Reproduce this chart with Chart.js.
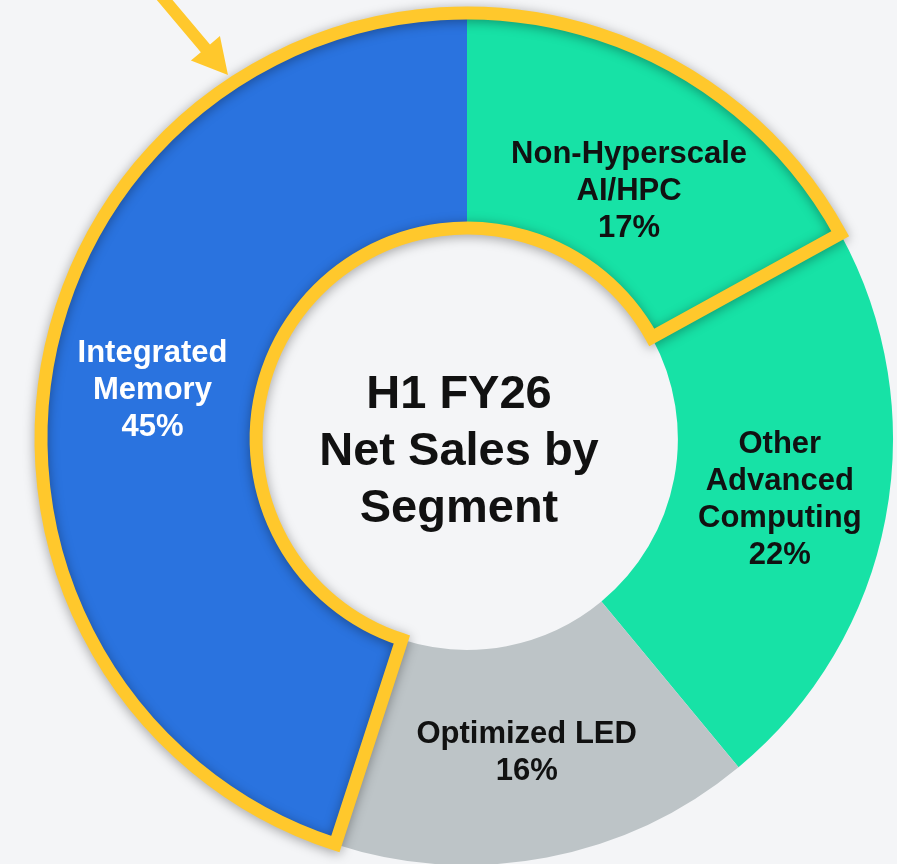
<!DOCTYPE html>
<html><head><meta charset="utf-8">
<script src="https://cdn.jsdelivr.net/npm/chart.js@4"></script>
<style>
html,body{margin:0;padding:0;background:#F4F5F7;overflow:hidden}
#wrap{width:897px;height:864px;position:relative}
canvas{display:block}
</style>
</head><body><div id="wrap"><canvas id="c" width="897" height="864"></canvas></div>
<script>
// ---- data ----
const categories = ['Non-Hyperscale AI/HPC', 'Other Advanced Computing', 'Optimized LED', 'Integrated Memory'];
const labelLines = [['Non-Hyperscale', 'AI/HPC'], ['Other', 'Advanced', 'Computing'], ['Optimized LED'], ['Integrated', 'Memory']];
const shares = [17, 22, 16, 45];
const highlighted = [true, false, false, true];
const centerTitle = ['H1 FY26', 'Net Sales by', 'Segment'];

// ---- styles ----
const segColors = ['#17E2A6', '#17E2A6', '#BDC4C7', '#2A73DF'];
const textColors = ['#111111', '#111111', '#111111', '#FFFFFF'];
const labelOffsets = [[0, 27], [0, 1], [0, 1], [0, 1]];
const YELLOW = '#FFC82C';
const FONT = "'Liberation Sans', Arial, Helvetica, sans-serif";

const overlay = {
  id: 'overlay',
  afterDatasetsDraw(chart) {
    const ctx = chart.ctx;
    const arcs = chart.getDatasetMeta(0).data;
    const n = arcs.length;
    // outline around contiguous runs of highlighted segments
    for (let s = 0; s < n; s++) {
      if (!highlighted[s] || highlighted[(s - 1 + n) % n]) continue;
      let e = s;
      while (highlighted[(e + 1) % n] && (e + 1) % n !== s) e = (e + 1) % n;
      const a0 = arcs[s].startAngle;
      let a1 = arcs[e].endAngle;
      if (e < s) a1 += Math.PI * 2;
      const {x, y, innerRadius, outerRadius} = arcs[s];
      ctx.save();
      ctx.beginPath();
      ctx.arc(x, y, outerRadius, a0, a1);
      ctx.arc(x, y, innerRadius, a1, a0, true);
      ctx.closePath();
      ctx.shadowColor = 'rgba(0,0,0,0.35)';
      ctx.shadowBlur = 12;
      ctx.shadowOffsetY = 2;
      ctx.lineWidth = 13;
      ctx.lineJoin = 'miter';
      ctx.miterLimit = 10;
      ctx.strokeStyle = YELLOW;
      ctx.stroke();
      ctx.restore();
    }
    // segment labels
    ctx.save();
    ctx.font = 'bold 31px ' + FONT;
    ctx.textAlign = 'center';
    ctx.textBaseline = 'middle';
    arcs.forEach((arc, i) => {
      const p = arc.getCenterPoint();
      const lines = [...labelLines[i], shares[i] + '%'];
      const lh = 37;
      const y0 = p.y + labelOffsets[i][1] - (lines.length - 1) * lh / 2;
      ctx.fillStyle = textColors[i];
      lines.forEach((t, k) => ctx.fillText(t, p.x + labelOffsets[i][0], y0 + k * lh));
    });
    // center title
    const a = arcs[0];
    ctx.font = 'bold 47px ' + FONT;
    ctx.fillStyle = '#111111';
    const clh = 57;
    const cy0 = a.y + 13 - (centerTitle.length - 1) * clh / 2;
    centerTitle.forEach((t, k) => ctx.fillText(t, a.x - 8, cy0 + k * clh));
    ctx.restore();
  },
  afterDraw(chart) {
    // pointer arrow
    const ctx = chart.ctx;
    const tip = {x: 228, y: 75};
    const dir = {x: 62.5, y: 74};
    const L = Math.hypot(dir.x, dir.y);
    const ux = dir.x / L, uy = dir.y / L, px = -uy, py = ux;
    const tail = {x: tip.x - ux * 130, y: tip.y - uy * 130};
    const headLen = 35, headW = 38, shaftW = 12;
    const bx = tip.x - ux * headLen, by = tip.y - uy * headLen;
    ctx.save();
    ctx.fillStyle = YELLOW;
    ctx.beginPath();
    ctx.moveTo(tail.x + px * shaftW / 2, tail.y + py * shaftW / 2);
    ctx.lineTo(bx + px * shaftW / 2, by + py * shaftW / 2);
    ctx.lineTo(bx + px * headW / 2, by + py * headW / 2);
    ctx.lineTo(tip.x, tip.y);
    ctx.lineTo(bx - px * headW / 2, by - py * headW / 2);
    ctx.lineTo(bx - px * shaftW / 2, by - py * shaftW / 2);
    ctx.lineTo(tail.x - px * shaftW / 2, tail.y - py * shaftW / 2);
    ctx.closePath();
    ctx.fill();
    ctx.restore();
  }
};

new Chart(document.getElementById('c'), {
  type: 'doughnut',
  data: {
    labels: categories,
    datasets: [{
      data: shares,
      backgroundColor: segColors,
      borderWidth: 0,
      clip: false
    }]
  },
  options: {
    responsive: false,
    animation: false,
    devicePixelRatio: 1,
    radius: 426,
    cutout: '49.5%',
    layout: {padding: {left: 37, top: 14, right: 0, bottom: 0}},
    plugins: {legend: {display: false}, tooltip: {enabled: false}},
    events: []
  },
  plugins: [overlay]
});
</script>
</body></html>
